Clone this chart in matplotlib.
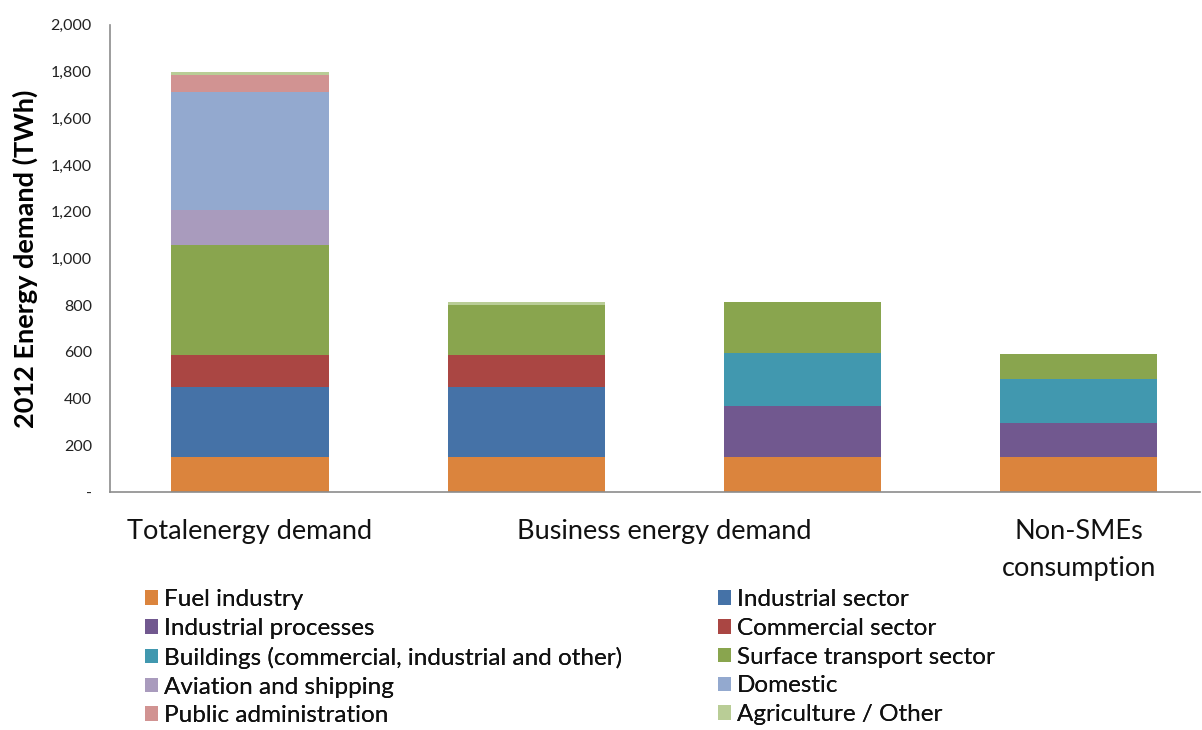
import matplotlib
matplotlib.use("Agg")
import matplotlib.pyplot as plt
from matplotlib.patches import Patch
from matplotlib.ticker import FuncFormatter

plt.rcParams['font.family'] = ['Lato', 'DejaVu Sans']

categories = ["Totalenergy demand", "Business energy demand", "", "Non-SMEs\nconsumption"]
series_names = ["Fuel industry", "Industrial sector", "Industrial processes", "Commercial sector",
                "Buildings (commercial, industrial and other)", "Surface transport sector",
                "Aviation and shipping", "Domestic", "Public administration", "Agriculture / Other"]
fuel_industry = [150, 150, 150, 150]
industrial_sector = [300, 300, 0, 0]
industrial_processes = [0, 0, 217, 144]
commercial_sector = [135, 135, 0, 0]
buildings = [0, 0, 228, 188]
surface_transport = [473, 215, 220, 108]
aviation_shipping = [150, 0, 0, 0]
domestic = [506, 0, 0, 0]
public_admin = [73, 0, 0, 0]
agriculture_other = [13, 15, 0, 0]
colors = ["#DB843D", "#4572A7", "#71588F", "#AA4643", "#4198AF", "#89A54E",
          "#A99BBD", "#93A9CF", "#D19392", "#B9CD96"]
yticks = [0, 200, 400, 600, 800, 1000, 1200, 1400, 1600, 1800, 2000]

series = [fuel_industry, industrial_sector, industrial_processes, commercial_sector, buildings,
          surface_transport, aviation_shipping, domestic, public_admin, agriculture_other]

fig = plt.figure(figsize=(12.02, 7.30), dpi=100)
ax = fig.add_axes([0.0915, 0.326, 0.907, 0.640])

x = list(range(len(categories)))
bottom = [0] * len(categories)
handles = []
for name, vals, c in zip(series_names, series, colors):
    ax.bar(x, vals, width=0.57, bottom=bottom, color=c, edgecolor='none')
    bottom = [b + v for b, v in zip(bottom, vals)]
    handles.append(Patch(facecolor=c, edgecolor='none', label=name))

ax.set_xlim(-0.507, 3.44)
ax.set_ylim(0, 2000)
ax.set_yticks(yticks)
ax.yaxis.set_major_formatter(FuncFormatter(lambda v, p: "-" if v == 0 else f"{int(v):,}"))
ax.tick_params(axis='y', length=0, pad=13, labelsize=11.5, labelcolor='#222222')
ax.tick_params(axis='x', length=0)
ax.set_xticks([])
for s in ['top', 'right']:
    ax.spines[s].set_visible(False)
for s in ['left', 'bottom']:
    ax.spines[s].set_color('#8c8c8c')
    ax.spines[s].set_linewidth(1.2)

ax.set_ylabel("2012 Energy demand (TWh)", fontsize=19.5, fontweight='bold', labelpad=9)

# category labels (second label is centered between bars 2 and 3)
label_pos = [0, 1.5, 2, 3]
for pos, lab in zip(label_pos, categories):
    if lab:
        ax.text(pos, -0.058, lab, transform=ax.get_xaxis_transform(), ha='center', va='top',
                fontsize=19.5, color='#111111', linespacing=1.6)

# legend: two columns, row-major order
left_h = handles[0::2]
right_h = handles[1::2]
for hs, xpos in [(left_h, 0.1206), (right_h, 0.597)]:
    leg = fig.legend(handles=hs, loc='upper left', bbox_to_anchor=(xpos, 0.193), frameon=False,
                     fontsize=17.5, handlelength=0.55, handleheight=0.55, handletextpad=0.25,
                     labelspacing=0.32, borderaxespad=0, borderpad=0)
    for t in leg.get_texts():
        t.set_color('#111111')
    fig.add_artist(leg)

fig.savefig("out.png", dpi=100)
